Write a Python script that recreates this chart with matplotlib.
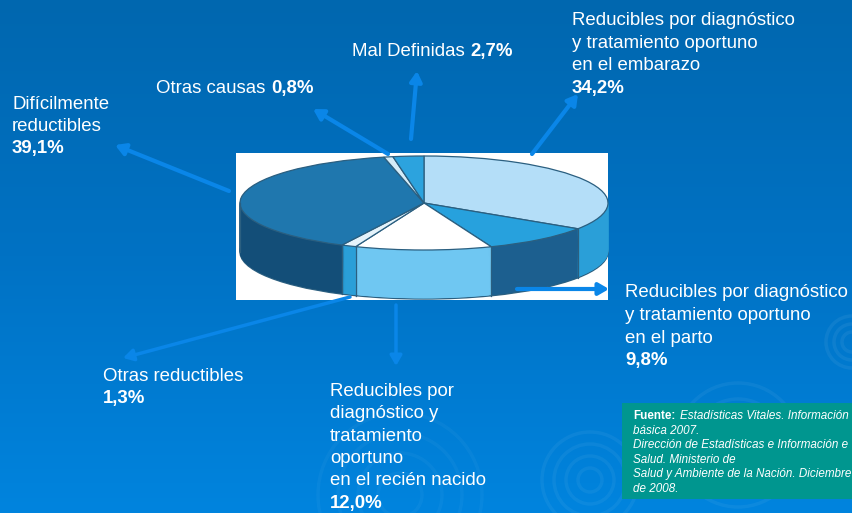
import numpy as np
import matplotlib
matplotlib.use("Agg")
import matplotlib.pyplot as plt
from matplotlib.patches import Circle, Rectangle
from matplotlib.colors import LinearSegmentedColormap

plt.rcParams['font.family'] = ['Liberation Sans', 'DejaVu Sans']

categories = ["Reducibles embarazo", "Reducibles parto", "Reducibles recién nacido",
              "Otras reductibles", "Difícilmente reducibles", "Otras causas", "Mal Definidas"]
values = [34.2, 9.8, 12.0, 1.3, 39.1, 0.8, 2.7]
top_colors = ["#B4DEF8", "#27A1DD", "#FFFFFF", "#E4F3FB", "#1F77AE", "#D5ECF8", "#2CA3DE"]
side_colors = ["#2A9FD8", "#1C5F8F", "#6FC7F2", "#2A9FD8", "#134E78", "#134E78", "#134E78"]

W, H = 852, 513
fig = plt.figure(figsize=(W / 100, H / 100), dpi=100)
bg = fig.add_axes([0, 0, 1, 1])
bg.set_xlim(0, W)
bg.set_ylim(H, 0)
bg.axis("off")
cmap = LinearSegmentedColormap.from_list("bg", ["#0067AF", "#0072C4", "#0084DE"])
bg.imshow(np.linspace(0, 1, 256).reshape(-1, 1), extent=(0, W, H, 0), aspect="auto", cmap=cmap, zorder=0)

rings = [(590, 480, [12, 24, 36, 48], 0.05), (400, 495, [22, 42, 62, 82], 0.035),
         (738, 445, [30, 46, 62], 0.05), (852, 342, [10, 18, 26], 0.06)]
for cx, cy, radii, a in rings:
    for r in radii:
        bg.add_patch(Circle((cx, cy), r, fill=False, ec="white", alpha=a, lw=2.5, zorder=1))

# pie drawn in its own white panel
px0, px1, py0, py1 = 236, 608, 153, 300
cx, cy, rx, ry, depth_px = 424, 203, 184, 47, 49
pie_ax = fig.add_axes([px0 / W, 1 - py1 / H, (px1 - px0) / W, (py1 - py0) / H], zorder=2)
depth = depth_px / ry
edge = "#2B5F80"
n_layers = 50
for i in range(n_layers):
    off = -depth * (1 - i / n_layers)
    lw = 1.0 if i == 0 else 0.6
    wedges, _ = pie_ax.pie(values, colors=side_colors, startangle=90, counterclock=False,
                           center=(0, off), radius=1,
                           wedgeprops=dict(linewidth=lw))
    for w, c in zip(wedges, side_colors):
        w.set_edgecolor(edge if i == 0 else c)
pie_ax.pie(values, colors=top_colors, startangle=90, counterclock=False, radius=1,
           wedgeprops=dict(edgecolor=edge, linewidth=0.9))
bounds = np.cumsum(values) / np.sum(values) * 2 * np.pi
for t in bounds:
    if np.cos(t) < 0:
        pie_ax.plot([np.sin(t)] * 2, [np.cos(t), np.cos(t) - depth], color=edge, lw=0.9)
pie_ax.plot([-1, -1], [0, -depth], color=edge, lw=0.9)
pie_ax.set_aspect("auto")
pie_ax.set_xlim((px0 - cx) / rx, (px1 - cx) / rx)
pie_ax.set_ylim((cy - py1) / ry, (cy - py0) / ry)
pie_ax.set_frame_on(True)
pie_ax.set_facecolor("white")
for s in pie_ax.spines.values():
    s.set_visible(False)

# overlay for labels and arrows
ov = fig.add_axes([0, 0, 1, 1], zorder=3)
ov.set_xlim(0, W)
ov.set_ylim(H, 0)
ov.axis("off")

arrows = [((229, 191), (115, 145), 3), ((388, 154), (313, 109), 3), ((411, 139), (417, 71), 3),
          ((532, 154), (578, 94), 3), ((517, 289), (609, 289), 3), ((396, 305), (396, 366), 2.5),
          ((350, 297), (123, 358), 2.5)]
for a, b, lw in arrows:
    ov.annotate("", xy=b, xytext=a,
                arrowprops=dict(arrowstyle="-|>,head_length=0.6,head_width=0.35", color="#0A86E8",
                                lw=lw, shrinkA=0, shrinkB=0))

FS = 13.4
def txt(x, y, s, **kw):
    return ov.text(x, y, s, color="white", fontsize=kw.pop("fs", FS), va="baseline", ha="left", **kw)

def mixed(x, y, a, b, fs=FS, w_a="normal", w_b="bold"):
    t = txt(x, y, a, fs=fs, fontweight=w_a)
    fig.canvas.draw()
    bb = t.get_window_extent()
    txt(bb.x1 + 6, y, b, fs=fs, fontweight=w_b)

for x, y, s, w in [
    (572, 25, "Reducibles por diagnóstico", "normal"),
    (572, 48, "y tratamiento oportuno", "normal"),
    (572, 70, "en el embarazo", "normal"),
    (572, 93, "34,2%", "bold"),
    (12, 109, "Difícilmente", "normal"),
    (12, 131, "reductibles", "normal"),
    (12, 153, "39,1%", "bold"),
    (625, 297, "Reducibles por diagnóstico", "normal"),
    (625, 320, "y tratamiento oportuno", "normal"),
    (625, 343, "en el parto", "normal"),
    (625, 365, "9,8%", "bold"),
    (103, 381, "Otras reductibles", "normal"),
    (103, 403, "1,3%", "bold"),
    (330, 396, "Reducibles por", "normal"),
    (330, 418, "diagnóstico y", "normal"),
    (330, 441, "tratamiento", "normal"),
    (330, 463, "oportuno", "normal"),
    (330, 485, "en el recién nacido", "normal"),
    (330, 508, "12,0%", "bold"),
]:
    txt(x, y, s, fontweight=w)
mixed(352, 56, "Mal Definidas", "2,7%")
mixed(156, 93, "Otras causas", "0,8%")

ov.add_patch(Rectangle((622, 403), 230, 96, fc="#00968F", ec="none", zorder=1))
FS2 = 8.4
t = txt(633, 419, "Fuente:", fs=FS2, fontweight="bold", zorder=2)
fig.canvas.draw()
txt(t.get_window_extent().x1 + 4.5, 419, "Estadísticas Vitales. Información", fs=FS2, fontstyle="italic", zorder=2)
for y, s in [(434, "básica 2007."), (448, "Dirección de Estadísticas e Información e"),
             (463, "Salud. Ministerio de"), (477, "Salud y Ambiente de la Nación. Diciembre"),
             (492, "de 2008.")]:
    txt(633, y, s, fs=FS2, fontstyle="italic", zorder=2)

fig.savefig("out.png", dpi=100)
